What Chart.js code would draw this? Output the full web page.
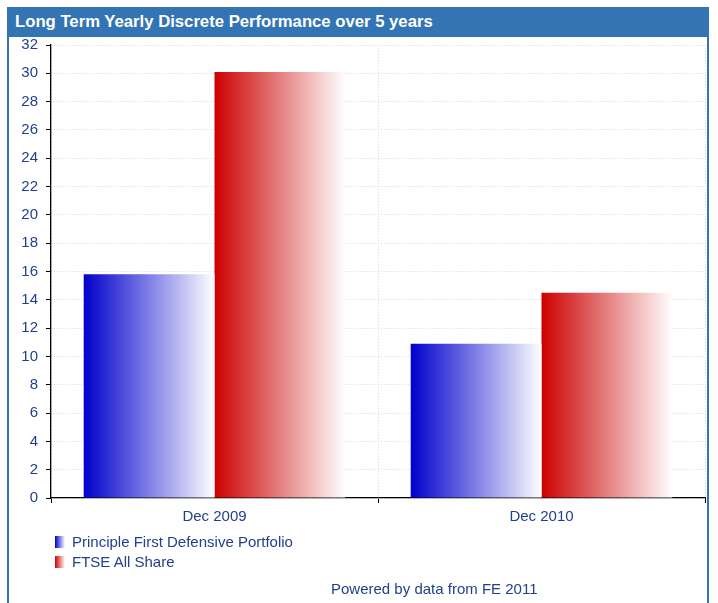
<!DOCTYPE html>
<html>
<head>
<meta charset="utf-8">
<script src="https://cdn.jsdelivr.net/npm/chart.js@4/dist/chart.umd.min.js"></script>
<style>
  html, body { margin: 0; padding: 0; background: #fff; }
  body { width: 718px; height: 603px; position: relative; overflow: hidden; font-family: "Liberation Sans", Arial, sans-serif; }
  #frame { position: absolute; left: 7px; top: 7px; width: 698px; height: 610px; border-left: 2px solid #3374b4; border-right: 2px solid #3374b4; }
  #header { position: absolute; left: 7px; top: 7px; width: 702px; height: 30px; background: #3374b4; color: #fff; font-weight: bold; font-size: 16.7px; line-height: 30px; padding-left: 8px; box-sizing: border-box; }
  #chart { position: absolute; left: 0; top: 0; }
  #legend { position: absolute; left: 55px; top: 533px; color: #203f8f; font-size: 15px; }
  .item { position: relative; height: 20px; line-height: 17px; }
  .box { position: absolute; left: 0; top: 3px; width: 10px; height: 12px; }
  .lbl { position: absolute; left: 17px; top: 0; white-space: nowrap; }
  #footer { position: absolute; left: 331px; top: 580px; color: #203f8f; font-size: 15px; white-space: nowrap; }
</style>
</head>
<body>
<div id="frame"></div>
<div id="header">Long Term Yearly Discrete Performance over 5 years</div>
<canvas id="chart" width="718" height="603" style="width:718px;height:603px"></canvas>
<div id="legend"></div>
<div id="footer">Powered by data from FE 2011</div>
<script>
const categories = ["Dec 2009", "Dec 2010"];
const seriesNames = ["Principle First Defensive Portfolio", "FTSE All Share"];
const portfolioValues = [15.8, 10.9];
const ftseValues = [30.1, 14.5];
const seriesColors = ["#0000cc", "#cc0000"];
const yTicks = [0, 2, 4, 6, 8, 10, 12, 14, 16, 18, 20, 22, 24, 26, 28, 30, 32];

const textColor = "#203f8f";
const CAT_PCT = 0.8;

function barGradient(ctx, color) {
  const chart = ctx.chart;
  const area = chart.chartArea;
  const xs = chart.scales && chart.scales.x;
  if (!area || !xs || ctx.type !== 'data') return color;
  const n = chart.data.labels.length;
  const cat = (area.right - area.left) / n;
  const nds = chart.data.datasets.length;
  const bw = cat * CAT_PCT / nds;
  const center = xs.getPixelForValue(ctx.dataIndex);
  const left = center - cat * CAT_PCT / 2 + ctx.datasetIndex * bw;
  const g = chart.ctx.createLinearGradient(left, 0, left + bw, 0);
  g.addColorStop(0, color);
  g.addColorStop(1, "#ffffff");
  return g;
}

// HTML legend
const legendEl = document.getElementById('legend');
seriesNames.forEach((name, i) => {
  const it = document.createElement('div');
  it.className = 'item';
  const b = document.createElement('span');
  b.className = 'box';
  b.style.background = `linear-gradient(to right, ${seriesColors[i]}, #ffffff)`;
  const l = document.createElement('span');
  l.className = 'lbl';
  l.textContent = name;
  it.appendChild(b); it.appendChild(l);
  legendEl.appendChild(it);
});

const font = { family: '"Liberation Sans", Arial, sans-serif', size: 15 };

new Chart(document.getElementById('chart'), {
  type: 'bar',
  data: {
    labels: categories,
    datasets: [
      { label: seriesNames[0], data: portfolioValues, backgroundColor: (c) => barGradient(c, seriesColors[0]), borderWidth: 0 },
      { label: seriesNames[1], data: ftseValues, backgroundColor: (c) => barGradient(c, seriesColors[1]), borderWidth: 0 }
    ]
  },
  options: {
    responsive: false,
    animation: false,
    devicePixelRatio: 1,
    layout: { padding: { left: 0, top: 45, right: 13, bottom: 65 } },
    datasets: { bar: { categoryPercentage: CAT_PCT, barPercentage: 1.0 } },
    plugins: { legend: { display: false }, title: { display: false }, tooltip: { enabled: false } },
    scales: {
      x: {
        offset: true,
        grid: { offset: true, color: '#d8d8d8', lineWidth: 1, drawTicks: true, tickLength: 5, tickColor: '#000', tickWidth: 1 },
        border: { display: true, color: '#000', width: 1.3, dash: [1, 2] },
        ticks: { color: textColor, font: font, padding: 5, maxRotation: 0 },
        afterFit: (s) => { s.height = 40; }
      },
      y: {
        min: 0, max: 32,
        afterBuildTicks: (s) => { s.ticks = yTicks.map(v => ({ value: v })); },
        grid: { color: '#d8d8d8', lineWidth: 1, drawTicks: true, tickLength: 5, tickColor: '#000', tickWidth: 1 },
        border: { display: true, color: '#000', width: 1.3, dash: [1, 2] },
        ticks: { color: textColor, font: font, padding: 8 },
        afterFit: (s) => { s.width = 51; }
      }
    }
  }
});
</script>
</body>
</html>
